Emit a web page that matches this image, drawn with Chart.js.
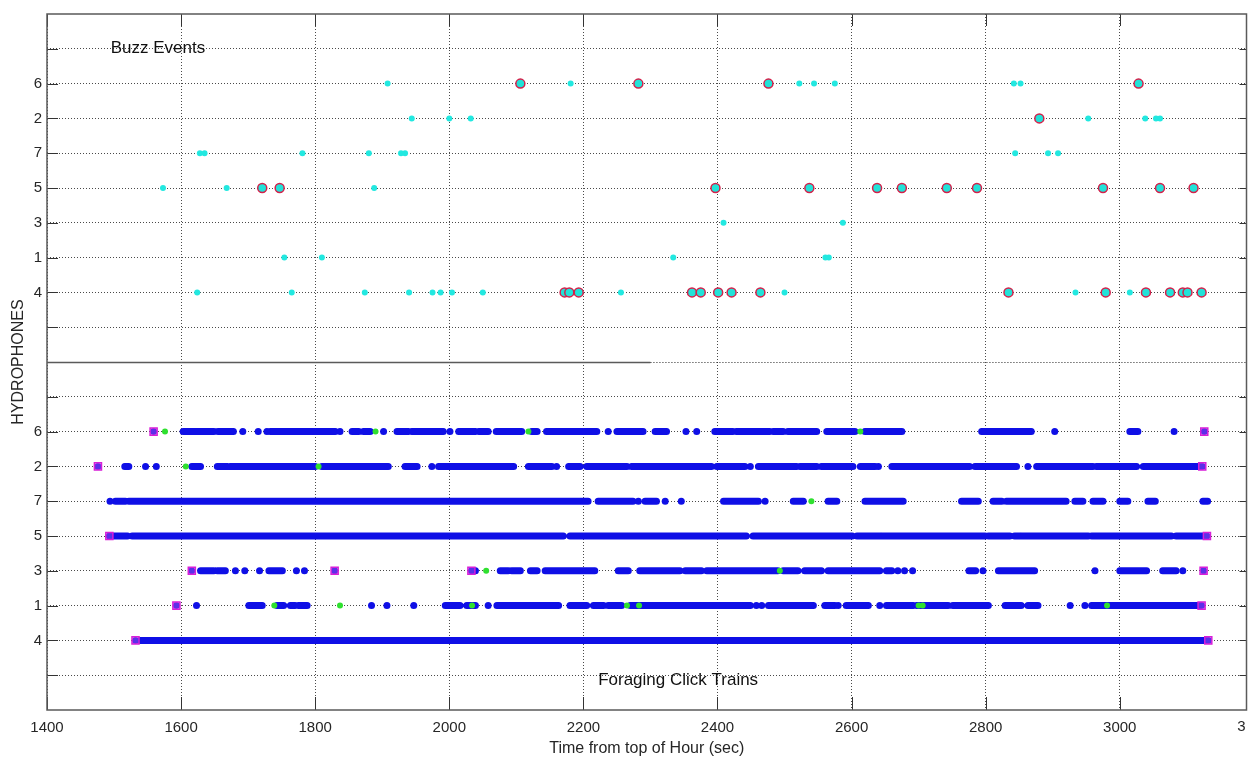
<!DOCTYPE html>
<html>
<head>
<meta charset="utf-8">
<script src="https://cdn.jsdelivr.net/npm/chart.js@4.4.1/dist/chart.umd.min.js"></script>
<style>
  html, body { margin: 0; padding: 0; background: #fff; overflow: hidden; }
  #wrap { width: 1253px; height: 764px; position: relative; }
</style>
</head>
<body>
<div id="wrap"><canvas id="chartHydro"></canvas></div>
<script>
// ── DATOS ──
// hidrófonos de abajo hacia arriba (valor y = índice + 2)
const hydrophones = ["4", "1", "3", "5", "7", "2", "6"];
const xTickVals = [1400, 1600, 1800, 2000, 2200, 2400, 2600, 2800, 3000, 3200];

// Buzz Events: [hidrófono, segundos]
const buzzSmall = [
    [6, 1908], [6, 2181], [6, 2522], [6, 2544], [6, 2575], [6, 2842], [6, 2852],
    [2, 1944], [2, 2000], [2, 2032], [2, 2953], [2, 3038], [2, 3054], [2, 3060],
    [7, 1628], [7, 1635], [7, 1781], [7, 1880], [7, 1928], [7, 1934], [7, 2844], [7, 2893], [7, 2908],
    [5, 1573], [5, 1668], [5, 1888],
    [3, 2409], [3, 2587],
    [1, 1754], [1, 1810], [1, 2334], [1, 2561], [1, 2566],
    [4, 1624], [4, 1765], [4, 1874], [4, 1940], [4, 1975], [4, 1987], [4, 2004], [4, 2050],
    [4, 2256], [4, 2500], [4, 2934], [4, 3015]
];
const buzzRinged = [
    [6, 2106], [6, 2282], [6, 2476], [6, 3028],
    [2, 2880],
    [5, 1721], [5, 1747], [5, 2397], [5, 2537], [5, 2638], [5, 2675], [5, 2742], [5, 2787],
    [5, 2975], [5, 3060], [5, 3110],
    [4, 2172], [4, 2179], [4, 2193], [4, 2362], [4, 2375], [4, 2401], [4, 2421], [4, 2464],
    [4, 2834], [4, 2979], [4, 3039], [4, 3075], [4, 3094], [4, 3101], [4, 3122]
];

// Foraging Click Trains: tramos [hidrófono, inicio, fin]
const clickTrains = [
    [6, 1603, 1649], [6, 1655, 1678], [6, 1733, 1830], [6, 1855, 1865], [6, 1872, 1882], [6, 1922, 1939],
    [6, 1944, 1991], [6, 2014, 2039], [6, 2044, 2058], [6, 2070, 2108], [6, 2123, 2131], [6, 2145, 2220],
    [6, 2250, 2289], [6, 2307, 2324], [6, 2396, 2423], [6, 2428, 2478], [6, 2483, 2498], [6, 2505, 2548],
    [6, 2563, 2605], [6, 2620, 2675], [6, 2794, 2868], [6, 3015, 3027],
    [2, 1516, 1522], [2, 1616, 1629], [2, 1654, 1669], [2, 1673, 1800], [2, 1810, 1909], [2, 1934, 1952],
    [2, 1984, 2096], [2, 2118, 2153], [2, 2178, 2195], [2, 2205, 2265], [2, 2272, 2391], [2, 2399, 2441],
    [2, 2461, 2518], [2, 2523, 2548], [2, 2555, 2602], [2, 2613, 2635], [2, 2660, 2776], [2, 2784, 2846],
    [2, 2876, 2960], [2, 2965, 3025], [2, 3035, 3119],
    [7, 1502, 1517], [7, 1522, 2207], [7, 2222, 2274], [7, 2292, 2309], [7, 2409, 2461], [7, 2513, 2528],
    [7, 2565, 2578], [7, 2620, 2677], [7, 2764, 2789], [7, 2811, 2824], [7, 2831, 2920], [7, 2933, 2945],
    [7, 2960, 2975], [7, 3000, 3012], [7, 3042, 3053], [7, 3124, 3131],
    [5, 1497, 1520], [5, 1527, 2170], [5, 2180, 2443], [5, 2453, 2601], [5, 2608, 2643], [5, 2645, 2799],
    [5, 2804, 2836], [5, 2843, 2851], [5, 2853, 2953], [5, 2958, 3077], [5, 3084, 3124],
    [3, 1629, 1649], [3, 1654, 1666], [3, 1731, 1751], [3, 2076, 2088], [3, 2093, 2106], [3, 2121, 2131],
    [3, 2143, 2217], [3, 2252, 2267], [3, 2284, 2344], [3, 2352, 2376], [3, 2384, 2490], [3, 2498, 2520],
    [3, 2530, 2555], [3, 2565, 2642], [3, 2652, 2660], [3, 2775, 2785], [3, 2819, 2873], [3, 3000, 3040],
    [3, 3064, 3084],
    [1, 1701, 1721], [1, 1743, 1753], [1, 1763, 1770], [1, 1775, 1788], [1, 1994, 2016], [1, 2026, 2039],
    [1, 2071, 2163], [1, 2180, 2205], [1, 2215, 2230], [1, 2237, 2257], [1, 2270, 2449], [1, 2476, 2543],
    [1, 2560, 2575], [1, 2592, 2625], [1, 2652, 2692], [1, 2697, 2744], [1, 2751, 2804], [1, 2829, 2853],
    [1, 2863, 2878], [1, 2958, 3119],
    [4, 1539, 3128]
];
// clics aislados
const clickDots = [
    [6, 1559], [6, 1692], [6, 1715], [6, 1728], [6, 1837], [6, 1902], [6, 2001], [6, 2237], [6, 2353],
    [6, 2369], [6, 2903], [6, 3081], [6, 3126],
    [2, 1476], [2, 1547], [2, 1563], [2, 1974], [2, 2160], [2, 2449], [2, 2640], [2, 2863], [2, 3123],
    [7, 1494], [7, 2282], [7, 2322], [7, 2346], [7, 2471],
    [5, 1493], [5, 3130],
    [3, 1616], [3, 1681], [3, 1695], [3, 1717], [3, 1772], [3, 1784], [3, 1829], [3, 2033], [3, 2039],
    [3, 2669], [3, 2679], [3, 2691], [3, 2796], [3, 2963], [3, 3094], [3, 3125],
    [1, 1593], [1, 1623], [1, 1884], [1, 1907], [1, 1947], [1, 2058], [1, 2458], [1, 2466], [1, 2580],
    [1, 2642], [1, 2926], [1, 2948], [1, 3122],
    [4, 1532], [4, 3132]
];
const clickGreen = [
    [6, 1576], [6, 1890], [6, 2118], [6, 2613], [2, 1607], [2, 1805], [7, 2540], [3, 2055], [3, 2493],
    [1, 1739], [1, 1837], [1, 2034], [1, 2265], [1, 2283], [1, 2700], [1, 2706], [1, 2981]
];
const trainEnds = [
    [6, 1559], [6, 3126], [2, 1476], [2, 3123], [5, 1493], [5, 3130], [3, 1616], [3, 1829],
    [3, 2033], [3, 3125], [1, 1593], [1, 3122], [4, 1532], [4, 3132]
];

// ── AYUDAS ──
const rowY = h => hydrophones.indexOf(String(h)) + 2;
const pts = arr => arr.map(([h, t]) => ({ x: t, y: rowY(h) }));
const segs = arr => {
    const out = [];
    arr.forEach(([h, s, e]) => {
        const y = rowY(h);
        out.push({ x: s, y: y }, { x: e, y: y }, { x: e, y: null });
    });
    return out;
};

const FONT = "'Liberation Sans', Arial, Helvetica, sans-serif";
const TEXT = "#262626";
const GRID = "#4a4a4a";

const yAxis = {
    type: "linear", min: 0, max: 10, position: "left", stack: "panels", stackWeight: 1,
    afterBuildTicks: s => { s.ticks = [1, 2, 3, 4, 5, 6, 7, 8, 9].map(v => ({ value: v })); },
    afterFit: s => { s.width = 47; },
    ticks: {
        callback: v => hydrophones[v - 2] || "",
        font: { family: FONT, size: 15 }, color: TEXT, padding: 5
    },
    grid: { color: GRID, lineWidth: 1, drawTicks: false },
    border: { display: false, dash: [1, 2] }
};

// ── marco, ticks hacia adentro y textos ──
const marcoPlugin = {
    id: "marco",
    afterDraw(chart) {
        const { ctx, chartArea: a, scales } = chart;
        const x = scales.x, yT = scales.yTop, yB = scales.yBot;
        ctx.save();
        ctx.strokeStyle = "#333";
        ctx.lineWidth = 1;
        ctx.beginPath();
        x.ticks.forEach(t => {
            const px = Math.round(x.getPixelForValue(t.value)) + 0.5;
            ctx.moveTo(px, a.bottom); ctx.lineTo(px, a.bottom - 13);
            ctx.moveTo(px, a.top); ctx.lineTo(px, a.top + 12);
        });
        [yT, yB].forEach(s => s.ticks.forEach(t => {
            const py = Math.round(s.getPixelForValue(t.value)) + 0.5;
            ctx.moveTo(a.left, py); ctx.lineTo(a.left + 11, py);
            ctx.moveTo(a.right, py); ctx.lineTo(a.right - 7, py);
        }));
        ctx.stroke();

        ctx.strokeStyle = "#5a5a5a";
        ctx.lineWidth = 1.5;
        ctx.strokeRect(a.left, a.top, a.width, a.height);
        // separación entre paneles
        const ySep = Math.round(yT.bottom) + 0.5;
        const xCorte = x.getPixelForValue(2300);
        ctx.beginPath(); ctx.moveTo(a.left, ySep); ctx.lineTo(xCorte, ySep); ctx.stroke();
        ctx.lineWidth = 1;
        ctx.strokeStyle = "#222";
        ctx.setLineDash([1, 2]);
        ctx.beginPath(); ctx.moveTo(xCorte, ySep); ctx.lineTo(a.right, ySep); ctx.stroke();
        ctx.setLineDash([]);

        // etiqueta de tick fuera de rango (queda cortada en el borde)
        ctx.save();
        ctx.beginPath();
        ctx.rect(0, a.bottom, a.right - 1, chart.height - a.bottom);
        ctx.clip();
        ctx.fillStyle = TEXT;
        ctx.font = "15px " + FONT;
        ctx.textAlign = "center";
        ctx.textBaseline = "top";
        xTickVals.filter(v => v > x.max).forEach(v => {
            ctx.fillText(String(v), x.getPixelForValue(v), a.bottom + 9);
        });
        ctx.restore();

        // títulos de panel
        ctx.font = "17px " + FONT;
        ctx.fillStyle = "#111";
        ctx.textAlign = "left";
        ctx.textBaseline = "middle";
        ctx.fillText("Buzz Events", x.getPixelForValue(1495), yT.getPixelForValue(9));
        ctx.fillText("Foraging Click Trains", x.getPixelForValue(2222), yB.getPixelForValue(0.86));

        // título eje Y común
        ctx.font = "16px " + FONT;
        ctx.fillStyle = TEXT;
        ctx.translate(19, (a.top + a.bottom) / 2);
        ctx.rotate(-Math.PI / 2);
        ctx.textAlign = "center";
        ctx.fillText("HYDROPHONES", 0, 0);
        ctx.restore();
    }
};

new Chart(document.getElementById("chartHydro"), {
    type: "scatter",
    data: {
        datasets: [
            {
                data: pts(trainEnds), yAxisID: "yBot", pointStyle: "rect", pointRadius: 5,
                backgroundColor: "rgba(235,110,235,0.35)", borderColor: "#d81ed8", borderWidth: 1.5
            },
            {
                data: pts(clickGreen), yAxisID: "yBot", pointRadius: 3,
                backgroundColor: "#2fe02f", borderWidth: 0
            },
            {
                data: pts(clickDots), yAxisID: "yBot", pointRadius: 3.5,
                backgroundColor: "#0f0fe6", borderWidth: 0
            },
            {
                type: "line", data: segs(clickTrains), yAxisID: "yBot",
                borderColor: "#0f0fe6", borderWidth: 7, borderCapStyle: "round",
                pointRadius: 0, spanGaps: false, fill: false
            },
            {
                data: pts(buzzRinged), yAxisID: "yTop", pointRadius: 4.5,
                backgroundColor: "#22e2d8", borderColor: "#d4204a", borderWidth: 1.5
            },
            {
                data: pts(buzzSmall), yAxisID: "yTop", pointRadius: 3,
                backgroundColor: "#22e8e0", borderWidth: 0
            }
        ]
    },
    options: {
        responsive: true,
        maintainAspectRatio: false,
        animation: false,
        events: [],
        layout: { padding: { top: 10, right: 6, left: 0, bottom: 0 } },
        plugins: { legend: { display: false }, tooltip: { enabled: false } },
        scales: {
            x: {
                type: "linear", min: 1400, max: 3189,
                afterBuildTicks: s => { s.ticks = xTickVals.filter(v => v <= s.max).map(v => ({ value: v })); },
                afterFit: s => { s.height = 54; },
                ticks: {
                    callback: v => String(v),
                    font: { family: FONT, size: 15 }, color: TEXT, padding: 9, maxRotation: 0
                },
                grid: { color: GRID, lineWidth: 1, drawTicks: false },
                border: { display: false, dash: [1, 2] },
                title: {
                    display: true, text: "Time from top of Hour (sec)",
                    font: { family: FONT, size: 16 }, color: TEXT, padding: { top: 0, bottom: 6 }
                }
            },
            yBot: yAxis,
            yTop: Object.assign({}, yAxis)
        }
    },
    plugins: [marcoPlugin]
});
</script>
</body>
</html>
